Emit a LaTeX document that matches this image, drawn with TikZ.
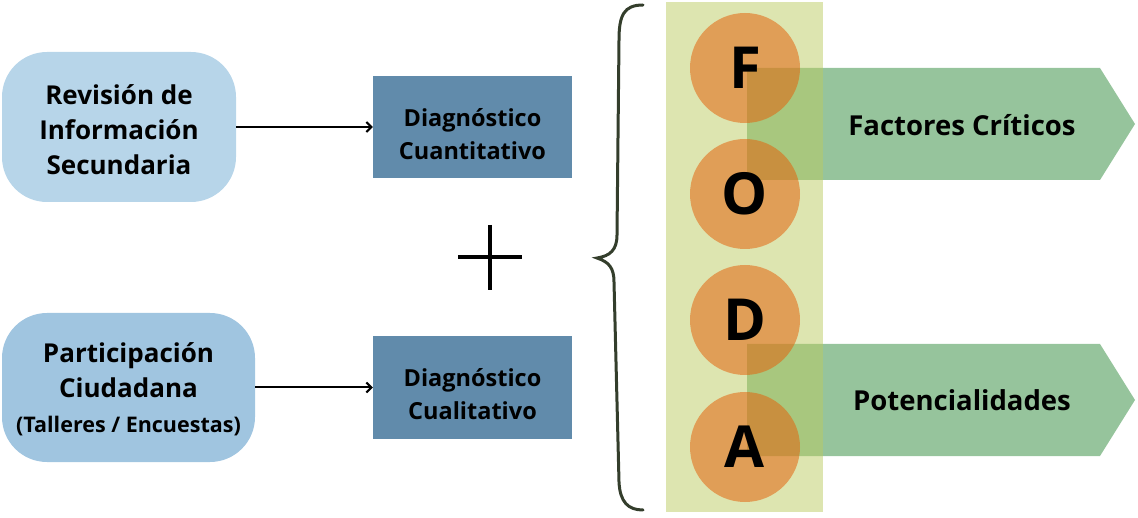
\documentclass[tikz,border=0pt]{standalone}
\usepackage{fontspec}
\setmainfont{Open Sans}
\usepackage{tikz}
\usetikzlibrary{arrows.meta, positioning}

\definecolor{srcA}{RGB}{183,213,233}
\definecolor{srcB}{RGB}{160,197,224}
\definecolor{diag}{RGB}{97,139,171}
\definecolor{band}{RGB}{187,203,97}
\definecolor{letter}{RGB}{228,100,14}
\definecolor{result}{RGB}{150,196,156}
\definecolor{brace}{RGB}{52,62,44}

\begin{document}
\begin{tikzpicture}[
        x=1pt, y=-1pt,
        source/.style={rounded corners=45pt, inner sep=0pt},
        sourcetext/.style={align=center, font=\bfseries\fontsize{26}{35}\selectfont, inner sep=0pt},
        diagbox/.style={fill=diag, minimum width=199pt, minimum height=102pt, inner sep=0pt},
        diagtext/.style={align=center, font=\bfseries\fontsize{23.5}{33}\selectfont, inner sep=0pt},
        link/.style={line width=2pt, -{Straight Barb[length=5pt, width=10pt]}},
        foda/.style={circle, fill=letter, fill opacity=0.55, text opacity=1, minimum size=110pt, inner sep=0pt, font=\bfseries\fontsize{58}{58}\selectfont},
        outcome/.style={font=\bfseries\fontsize{27.5}{30}\selectfont}
      ]
      \useasboundingbox (0,0) rectangle (1138,518);

      % Sources
      \node[source, fill=srcA, minimum width=234pt, minimum height=150pt] (revision) at (119, 127) {};
      \node[sourcetext] (revisionText) at ([yshift=-3pt]revision.center) {Revisión de\\Información\\Secundaria};
      \node[source, fill=srcB, minimum width=253pt, minimum height=149pt] (participacion) at (128.5, 387.5) {};
      \node[sourcetext] (participacionText) at ([yshift=-2pt]participacion.center) {Participación\\Ciudadana\\{\fontsize{21.5}{34}\selectfont(Talleres / Encuestas)}};

      % Diagnostics
      \node[diagbox] (cuantitativo) at (472.5, 127) {};
      \node[diagtext] (cuantitativoText) at ([yshift=-7pt]cuantitativo.center) {Diagnóstico\\Cuantitativo};
      \node[diagbox] (cualitativo) at (472.5, 387.5) {};
      \node[diagtext] (cualitativoText) at ([yshift=-7pt]cualitativo.center) {Diagnóstico\\Cualitativo};

      \draw[link] (revision) -- (cuantitativo);
      \draw[link] (participacion) -- (cualitativo);

      % Plus sign
      \draw[line width=3.2pt] (458, 257) -- (522, 257) (490, 225) -- (490, 290);

      % Brace
      \draw[brace, line width=3pt, line cap=round]
        (643,5) .. controls (624,5) and (619,15) .. (619,40) -- (617,235)
        .. controls (617,250) and (610,256) .. (597,258)
        .. controls (609,262) and (614,268) .. (614,282) -- (619,482)
        .. controls (620,502) and (628,510) .. (643,510);

      % Results
      \fill[result] (747,68) -- (1100,68) -- (1135,124) -- (1100,180) -- (747,180) -- cycle;
      \fill[result] (747,344) -- (1100,344) -- (1135,400) -- (1100,456) -- (747,456) -- cycle;
      \node[outcome] (factores) at (962, 125) {Factores Críticos};
      \node[outcome] (potencialidades) at (962, 400) {Potencialidades};

      % FODA column
      \fill[band, opacity=0.5] (666,2) rectangle (823,512);
      \node[foda] (f) at (745, 68) {F};
      \node[foda] (o) at (745, 194) {O};
      \node[foda] (d) at (745, 320) {D};
      \node[foda] (a) at (745, 447) {A};
  \end{tikzpicture}
\end{document}
